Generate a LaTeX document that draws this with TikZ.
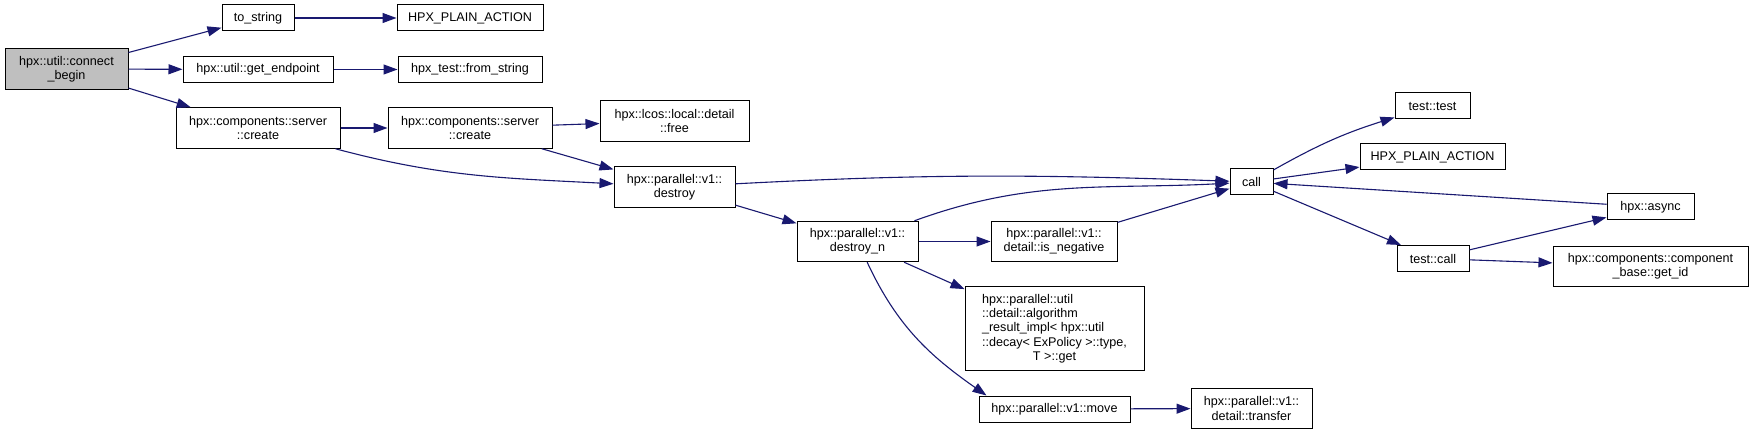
\documentclass[tikz,border=0pt]{standalone}
\usepackage{fontspec}
\setmainfont{Liberation Sans}
\usetikzlibrary{arrows.meta}

\definecolor{edgeblue}{HTML}{191970}
\definecolor{rootgray}{HTML}{BFBFBF}

\begin{document}
\begin{tikzpicture}[
    x=1pt, y=-1pt,
    every node/.style={font=\fontsize{12.6}{14.3}\selectfont},
    fn/.style={
        rectangle,
        draw=black,
        line width=1pt,
        fill=white,
        inner xsep=4pt,
        inner ysep=2pt,
        minimum height=26pt,
        align=center
    },
    fntwo/.style={fn, minimum height=40.5pt},
    root/.style={fntwo, fill=rootgray},
    link/.style={-{Triangle[length=14pt, width=10pt]}, draw=edgeblue, line width=1.1pt}
]

\path[fill=white, use as bounding box] (0,0) rectangle (1753,435);

\node[root, minimum width=123pt] (begin) at (66.5,69) {hpx::util::connect\\\_begin};
\node[fn, minimum width=72pt] (tostr) at (258,18) {to\_string};
\node[fn, minimum width=146pt] (plainA) at (470,18) {HPX\_PLAIN\_ACTION};
\node[fn, minimum width=150pt] (getep) at (258,69.5) {hpx::util::get\_endpoint};
\node[fn, minimum width=144pt] (fromstr) at (470,69.5) {hpx\_test::from\_string};
\node[fntwo, minimum width=164pt] (createA) at (258,128) {hpx::components::server\\::create};
\node[fntwo, minimum width=164pt] (createB) at (470,128) {hpx::components::server\\::create};
\node[fntwo, minimum width=149pt] (free) at (674.5,121) {hpx::lcos::local::detail\\::free};
\node[fntwo, minimum width=121pt] (destroy) at (674.5,187) {hpx::parallel::v1::\\destroy};
\node[fntwo, minimum width=121pt] (destroyn) at (857.5,241.5) {hpx::parallel::v1::\\destroy\_n};
\node[fntwo, minimum width=126pt] (isneg) at (1054,241.5) {hpx::parallel::v1::\\detail::is\_negative};
\node[fn, minimum width=179pt, minimum height=84pt] (algo) at (1054.5,329)
    {\begin{tabular}{@{}l@{}}hpx::parallel::util\\::detail::algorithm\\\_result\_impl< hpx::util\\::decay< ExPolicy >::type,\\\multicolumn{1}{@{}c@{}}{T >::get}\end{tabular}};
\node[fn, minimum width=151pt] (move) at (1054.5,409) {hpx::parallel::v1::move};
\node[fntwo, minimum width=121pt] (transfer) at (1251.5,408.5) {hpx::parallel::v1::\\detail::transfer};
\node[fn, minimum width=43pt] (callf) at (1251.5,182) {call};
\node[fn, minimum width=75pt] (testtest) at (1432.5,106) {test::test};
\node[fn, minimum width=145pt] (plainB) at (1432.5,157) {HPX\_PLAIN\_ACTION};
\node[fn, minimum width=72pt] (testcall) at (1433,258.5) {test::call};
\node[fn, minimum width=87pt] (async) at (1650.5,207) {hpx::async};
\node[fntwo, minimum width=195pt] (getid) at (1650.5,266.5) {hpx::components::component\\\_base::get\_id};

\draw[link] (begin) -- (tostr);
\draw[link] (begin) -- (getep);
\draw[link] (begin) -- (createA);
\draw[link] (tostr) -- (plainA);
\draw[link] (getep) -- (fromstr);
\draw[link] (createA) -- (createB);
\draw[link] (createA) to[out=-15, in=177] (destroy);
\draw[link] (createB) -- (free);
\draw[link] (createB) -- (destroy);
\draw[link] (destroy) to[out=3, in=178] (callf);
\draw[link] (destroy) -- (destroyn);
\draw[link] (destroyn) to[out=20, in=183] (callf);
\draw[link] (destroyn) -- (isneg);
\draw[link] (destroyn) -- (algo);
\draw[link] (destroyn) to[out=-65, in=145] ([xshift=8pt]move.north west);
\draw[link] (isneg) -- (callf);
\draw[link] (move) -- (transfer);
\draw[link] (callf) to[bend left=6] (testtest);
\draw[link] (callf) -- (plainB);
\draw[link] (callf) -- (testcall);
\draw[link] (async) -- (callf);
\draw[link] (testcall) -- (async);
\draw[link] (testcall) -- (getid);

\end{tikzpicture}
\end{document}
